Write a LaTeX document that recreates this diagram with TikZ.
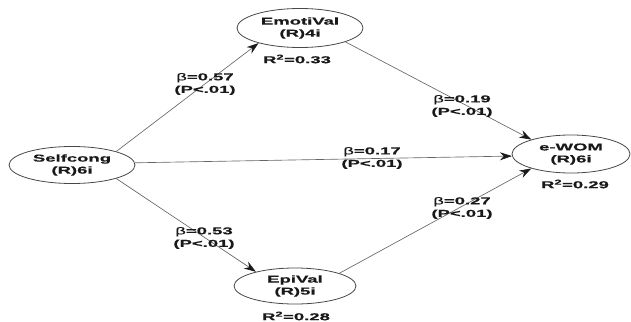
\documentclass[tikz,border=0pt]{standalone}
\usepackage{fontspec}
\newfontfamily\lab{Liberation Sans}[FakeStretch=1.85,FakeBold=0.6]
\usetikzlibrary{arrows.meta,shapes.geometric}
\begin{document}
\begin{tikzpicture}[x=1pt,y=-1pt,
  lv/.style={ellipse, draw=black!72, line width=0.8pt, inner sep=0pt, align=center,
    font=\lab\bfseries\fontsize{10}{12}\selectfont, text=black!90},
  lbl/.style={align=center, inner sep=0pt,
    font=\lab\bfseries\fontsize{10}{12.5}\selectfont, text=black!90},
  conn/.style={draw=black!60, line width=0.65pt,
    -{Stealth[length=12pt,width=8pt,color=black!90]}}
]
\useasboundingbox (0,0) rectangle (631,321);

\node[lv, minimum width=126pt, minimum height=37pt] (self) at (72,165) {Selfcong\\(R)6i};
\node[lv, minimum width=126pt, minimum height=39pt] (emo) at (300,28) {EmotiVal\\(R)4i};
\node[lv, minimum width=122pt, minimum height=36pt] (epi) at (295,286) {EpiVal\\(R)5i};
\node[lv, minimum width=118pt, minimum height=38pt] (wom) at (571,154) {e-WOM\\(R)6i};

\node[lbl] (r1) at (297,59) {R\textsuperscript{2}=0.33};
\node[lbl] (r2) at (296,316) {R\textsuperscript{2}=0.28};
\node[lbl] (r3) at (575,184) {R\textsuperscript{2}=0.29};

\draw[conn] (self.17) -- (emo.200);
\draw[conn] (self.2) -- (wom.182);
\draw[conn] (self.343) -- (epi.160);
\draw[conn] (emo.343) -- (wom.160);
\draw[conn] (epi.16) -- (wom.200);

\node[lbl] (b1) at (205,84) {{\mdseries β}=0.57\\(P<.01)};
\node[lbl] (b2) at (204,238) {{\mdseries β}=0.53\\(P<.01)};
\node[lbl] (b3) at (462,106) {{\mdseries β}=0.19\\(P<.01)};
\node[lbl] (b4) at (372,158) {{\mdseries β}=0.17\\(P<.01)};
\node[lbl] (b5) at (462,208) {{\mdseries β}=0.27\\(P<.01)};
\end{tikzpicture}
\end{document}
